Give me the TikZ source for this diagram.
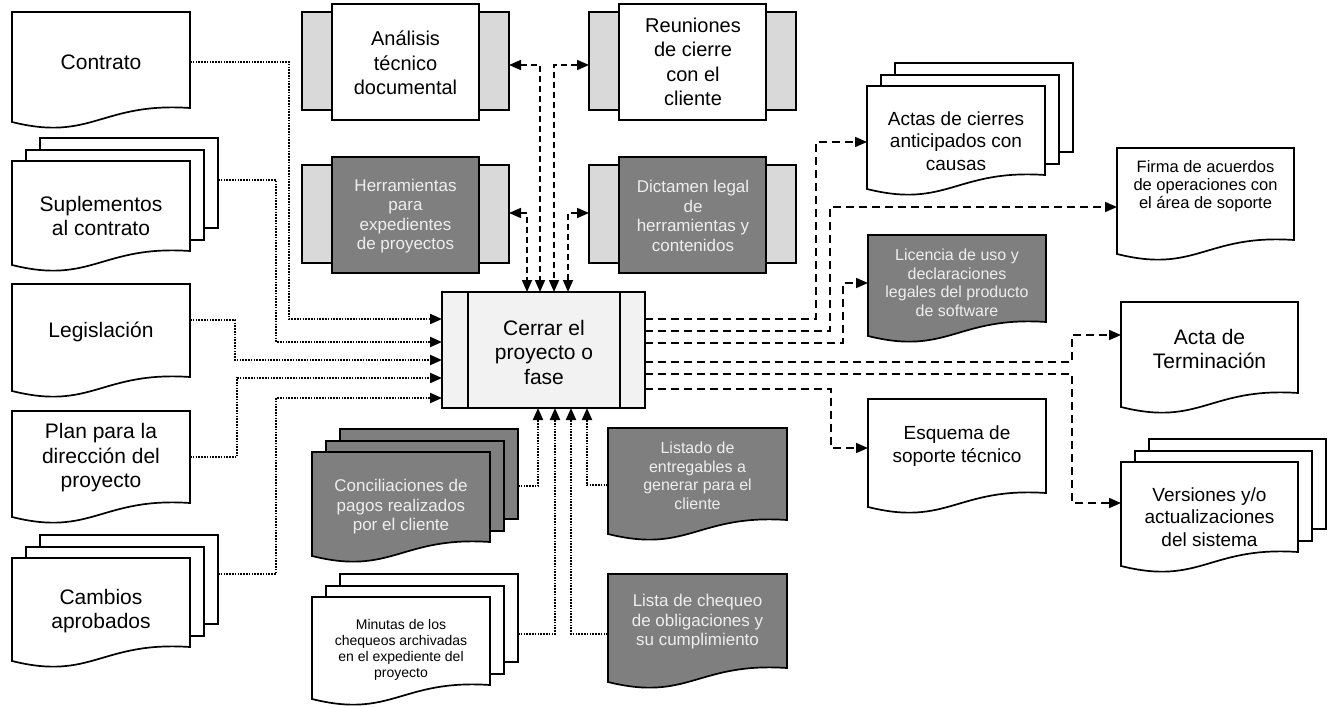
\documentclass[tikz,border=0pt]{standalone}
\usepackage{fontspec}
\setmainfont{Liberation Sans}
\usetikzlibrary{arrows.meta,calc}

\definecolor{panel}{HTML}{D9D9D9}
\definecolor{dark}{HTML}{7F7F7F}
\definecolor{pale}{HTML}{F2F2F2}
\definecolor{softtext}{HTML}{EEEEEE}

\tikzset{
  box/.style={draw=black, line width=1.7pt},
  rectnode/.style={inner sep=0pt, outer sep=0pt, anchor=north west},
  inflow/.style={line width=2pt, dash pattern=on 1.6pt off 1.2pt,
    -{Triangle[length=12pt,width=10pt]}},
  outflow/.style={line width=1.7pt, dash pattern=on 8pt off 5pt,
    -{Triangle[length=12pt,width=10pt]}},
  twoway/.style={line width=1.7pt, dash pattern=on 6pt off 4pt,
    {Triangle[length=12pt,width=10pt]}-{Triangle[length=12pt,width=10pt]}},
  txt/.style={align=center, inner sep=0pt},
  big/.style={txt, font=\fontsize{21}{24.5}\selectfont},
  procfont/.style={txt, font=\fontsize{20}{24.5}\selectfont},
  mid/.style={txt, font=\fontsize{19}{22.5}\selectfont},
  small/.style={txt, font=\fontsize{17}{19.5}\selectfont},
  smaller/.style={txt, font=\fontsize{16}{18.5}\selectfont},
  firmafont/.style={txt, font=\fontsize{16.5}{18}\selectfont},
  tiny/.style={txt, font=\fontsize{14}{16}\selectfont},
  ondark/.style={text=softtext},
}

% document sheet with a wavy lower edge: x0, top, x1, right-bottom, fill
\newcommand\docshape[5]{%
  \path[box,fill=#5] (#1,#2) -- (#3,#2) -- (#3,#4)
    .. controls ({#1+0.5*(#3-#1)},{#4-6}) and ({#1+0.45*(#3-#1)},{#4+34}) ..
    (#1,{#4+14}) -- cycle;}
% three stacked sheets
\newcommand\stackdoc[5]{%
  \path[box,fill=#5] ({#1+28},{#2-23}) rectangle ({#3+28},{#4-23});
  \path[box,fill=#5] ({#1+14},{#2-11}) rectangle ({#3+14},{#4-11});
  \docshape{#1}{#2}{#3}{#4}{#5}}
% invisible node covering the rectangular part of a sheet
\newcommand\docnode[5]{%
  \pgfmathsetmacro\dw{#4-#2}\pgfmathsetmacro\dh{#5-#3}%
  \node[rectnode, minimum width=\dw pt, minimum height=\dh pt] (#1) at (#2,#3) {};}
% process box with two side panels: name, x0, top, fill
\newcommand\procbox[4]{%
  \node[rectnode, box, fill=panel, minimum width=30pt, minimum height=98pt] (#1L) at (#2,{#3+8}) {};
  \node[rectnode, box, fill=panel, minimum width=30pt, minimum height=98pt] (#1R) at ({#2+177},{#3+8}) {};
  \node[rectnode, box, fill=#4, minimum width=147pt, minimum height=116pt] (#1) at ({#2+30},#3) {};}

\begin{document}
\begin{tikzpicture}[x=1pt,y=-1pt]
\path[fill=white] (0,0) rectangle (1337,706);
\useasboundingbox (0,0) rectangle (1337,706);

% ---------- inputs on the left ----------
\docshape{12}{12}{190}{108}{white}
\docnode{contrato}{12}{12}{190}{108}
\stackdoc{12}{161}{190}{251}{white}
\docnode{suplementos}{12}{161}{190}{251}
\docnode{supback}{40}{138}{218}{228}
\docshape{12}{284}{190}{377}{white}
\docnode{legislacion}{12}{284}{190}{377}
\docshape{12}{411}{190}{503}{white}
\docnode{plan}{12}{411}{190}{503}
\stackdoc{12}{558}{190}{647}{white}
\docnode{cambios}{12}{558}{190}{647}
\docnode{cambiosback}{40}{535}{218}{624}

% ---------- tools and techniques ----------
\procbox{analisis}{302}{4}{white}
\procbox{reuniones}{589}{4}{white}
\procbox{herramientas}{302}{157}{dark}
\procbox{dictamen}{589}{157}{dark}

% ---------- central process ----------
\node[rectnode, box, fill=pale, minimum width=203pt, minimum height=116pt] (cerrar) at (442,292) {};
\draw[box] ($(cerrar.north west)+(26,0)$) -- ($(cerrar.south west)+(26,0)$);
\draw[box] ($(cerrar.north east)+(-25,0)$) -- ($(cerrar.south east)+(-25,0)$);

% ---------- outputs on the right ----------
\stackdoc{867}{86}{1045}{175}{white}
\docnode{actas}{867}{86}{1045}{175}
\docshape{1117}{148}{1294}{240}{white}
\docnode{firma}{1117}{148}{1294}{240}
\docshape{868}{235}{1046}{322}{dark}
\docnode{licencia}{868}{235}{1046}{322}
\docshape{1121}{302}{1298}{393}{white}
\docnode{actaterm}{1121}{302}{1298}{393}
\docshape{868}{399}{1046}{493}{white}
\docnode{esquema}{868}{399}{1046}{493}
\stackdoc{1121}{462}{1298}{552}{white}
\docnode{versiones}{1121}{462}{1298}{552}

% ---------- inputs below ----------
\stackdoc{312}{452}{490}{542}{dark}
\docnode{conciliaciones}{312}{452}{490}{542}
\docnode{concback}{340}{429}{518}{519}
\stackdoc{312}{597}{490}{685}{white}
\docnode{minutas}{312}{597}{490}{685}
\docnode{minback}{340}{574}{518}{662}
\docshape{608}{428}{787}{520}{dark}
\docnode{listado}{608}{428}{787}{520}
\docshape{608}{574}{787}{668}{dark}
\docnode{lista}{608}{574}{787}{668}

% ---------- connectors: left inputs ----------
\draw[inflow] ($(contrato.north east)+(0,50)$) -- ++(99,0) |- ($(cerrar.north west)+(0,27)$);
\draw[inflow] ($(supback.north east)+(0,42)$) -- ++(58,0) |- ($(cerrar.north west)+(0,50)$);
\draw[inflow] ($(legislacion.north east)+(0,36)$) -- ++(45,0) |- ($(cerrar.north west)+(0,68)$);
\draw[inflow] ($(plan.north east)+(0,46)$) -- ++(47,0) |- ($(cerrar.north west)+(0,86)$);
\draw[inflow] ($(cambiosback.north east)+(0,39)$) -- ++(58,0) |- ($(cerrar.north west)+(0,106)$);

% ---------- connectors: tools ----------
\draw[twoway] ($(herramientasR.east)+(0,-1)$) -| ($(cerrar.north west)+(85,0)$);
\draw[twoway] ($(analisisR.east)+(0,4)$) -| ($(cerrar.north west)+(98,0)$);
\draw[twoway] ($(reunionesL.west)+(0,4)$) -| ($(cerrar.north west)+(112,0)$);
\draw[twoway] ($(dictamenL.west)+(0,-1)$) -| ($(cerrar.north west)+(126,0)$);

% ---------- connectors: outputs ----------
\draw[outflow] ($(cerrar.north east)+(0,27)$) -- ++(171,0) |- ($(actas.north west)+(0,56)$);
\draw[outflow] ($(cerrar.north east)+(0,39)$) -- ++(185,0) |- ($(firma.north west)+(0,59)$);
\draw[outflow] ($(cerrar.north east)+(0,51)$) -- ++(198,0) |- ($(licencia.north west)+(0,48)$);
\draw[outflow] ($(cerrar.north east)+(0,70)$) -- ++(427,0) |- ($(actaterm.north west)+(0,33)$);
\draw[outflow] ($(cerrar.north east)+(0,82)$) -- ++(427,0) |- ($(versiones.north west)+(0,41)$);
\draw[outflow] ($(cerrar.north east)+(0,97)$) -- ++(186,0) |- ($(esquema.north west)+(0,49)$);

% ---------- connectors: inputs below ----------
\draw[inflow] ($(concback.north east)+(0,57)$) -| ($(cerrar.south west)+(96,0)$);
\draw[inflow] ($(minback.north east)+(0,60)$) -| ($(cerrar.south west)+(113,0)$);
\draw[inflow] ($(lista.north west)+(0,60)$) -| ($(cerrar.south west)+(129,0)$);
\draw[inflow] ($(listado.north west)+(0,57)$) -| ($(cerrar.south west)+(145,0)$);

% ---------- labels ----------
\node[big] (contratoT) at (101,62) {Contrato};
\node[big] (suplementosT) at (101,216) {Suplementos\\al contrato};
\node[big] (legislacionT) at (101,332) {Legislación};
\node[big] (planT) at (101,458) {Plan para la\\dirección del\\proyecto};
\node[big] (cambiosT) at (101,611) {Cambios\\aprobados};

\node[procfont] (analisisT) at (405.5,63) {Análisis\\técnico\\documental};
\node[procfont] (reunionesT) at (693,62) {Reuniones\\de cierre\\con el\\cliente};
\node[small,ondark] (herramientasT) at (405.5,216) {Herramientas\\para\\expedientes\\de proyectos};
\node[small,ondark] (dictamenT) at (693,216) {Dictamen legal\\de\\herramientas y\\contenidos};

\node[big] (cerrarT) at (544,352) {Cerrar el\\proyecto o\\fase};

\node[mid] (actasT) at (956,141) {Actas de cierres\\anticipados con\\causas};
\node[firmafont] (firmaT) at (1205.5,186) {Firma de acuerdos\\de operaciones con\\el área de soporte};
\node[smaller,ondark] (licenciaT) at (957,283) {Licencia de uso y\\declaraciones\\legales del producto\\de software};
\node[big] (actatermT) at (1209.5,349) {Acta de\\Terminación};
\node[mid] (esquemaT) at (957,446) {Esquema de\\soporte técnico};
\node[mid] (versionesT) at (1209.5,517) {Versiones y/o\\actualizaciones\\del sistema};

\node[small,ondark] (conciliacionesT) at (401,507) {Conciliaciones de\\pagos realizados\\por el cliente};
\node[tiny] (minutasT) at (401,650) {Minutas de los\\chequeos archivadas\\en el expediente del\\proyecto};
\node[smaller,ondark] (listadoT) at (697.5,476) {Listado de\\entregables a\\generar para el\\cliente};
\node[small,ondark] (listaT) at (697.5,622) {Lista de chequeo\\de obligaciones y\\su cumplimiento};
\end{tikzpicture}
\end{document}
